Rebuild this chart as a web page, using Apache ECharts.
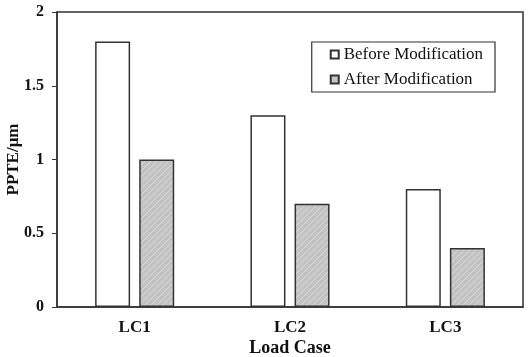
<!DOCTYPE html>
<html><head><meta charset="utf-8">
<script src="https://cdn.jsdelivr.net/npm/echarts@6/dist/echarts.min.js"></script>
<style>html,body{margin:0;padding:0;background:#fff}#c{width:530px;height:357px}</style>
</head><body><div id="c"></div>
<script>
var categories = ['LC1', 'LC2', 'LC3'];
var beforeValues = [1.8, 1.3, 0.8];
var afterValues = [1.0, 0.7, 0.4];
var seriesNames = ['Before Modification', 'After Modification'];

var pc = document.createElement('canvas');
pc.width = 6; pc.height = 6;
var g = pc.getContext('2d');
g.fillStyle = '#c3c3c3'; g.fillRect(0, 0, 6, 6);
g.strokeStyle = '#d6d6d6'; g.lineWidth = 1;
g.beginPath(); g.moveTo(-1, 7); g.lineTo(7, -1); g.stroke();
g.beginPath(); g.moveTo(-1, 1); g.lineTo(1, -1); g.stroke();
g.beginPath(); g.moveTo(5, 7); g.lineTo(7, 5); g.stroke();

var font = '"Liberation Serif", "Times New Roman", serif';
var chart = echarts.init(document.getElementById('c'));
chart.setOption({
  animation: false,
  grid: { left: 57, right: 7, top: 12, bottom: 50, show: true, borderColor: '#333', borderWidth: 1.5,
          containLabel: false, outerBoundsMode: 'none' },
  legend: {
    right: 35, top: 42, orient: 'vertical', icon: 'rect', itemWidth: 8, itemHeight: 8, itemGap: 8,
    padding: [4, 12, 4, 18],
    borderColor: '#333', borderWidth: 1.2,
    textStyle: { fontFamily: font, fontSize: 17, color: '#111' },
    data: seriesNames
  },
  xAxis: {
    type: 'category', data: categories,
    axisLine: { lineStyle: { color: '#333', width: 1.5 } },
    axisTick: { show: false },
    axisLabel: { margin: 12, fontFamily: font, fontWeight: 'bold', fontSize: 17, color: '#111' },
    name: 'Load Case', nameLocation: 'middle', nameGap: 32, nameMoveOverlap: false,
    nameTextStyle: { fontFamily: font, fontWeight: 'bold', fontSize: 18, color: '#111' }
  },
  yAxis: {
    type: 'value', min: 0, max: 2, interval: 0.5,
    splitLine: { show: false },
    axisLine: { show: true, lineStyle: { color: '#333', width: 1.5 } },
    axisTick: { show: true, length: 5, lineStyle: { color: '#333' } },
    axisLabel: { margin: 13, fontFamily: font, fontWeight: 'bold', fontSize: 16, color: '#111' },
    name: 'PPTE/μm', nameLocation: 'middle', nameGap: 35, nameRotate: 90, nameMoveOverlap: false,
    nameTextStyle: { fontFamily: font, fontWeight: 'bold', fontSize: 17, color: '#111' }
  },
  series: [
    { name: seriesNames[0], type: 'bar', data: beforeValues, barWidth: 35, barGap: '26%',
      itemStyle: { color: '#fff', borderColor: '#333', borderWidth: 1.5 } },
    { name: seriesNames[1], type: 'bar', data: afterValues, barWidth: 35,
      itemStyle: { color: { image: pc, repeat: 'repeat' }, borderColor: '#333', borderWidth: 1.5 } }
  ]
});
</script></body></html>
